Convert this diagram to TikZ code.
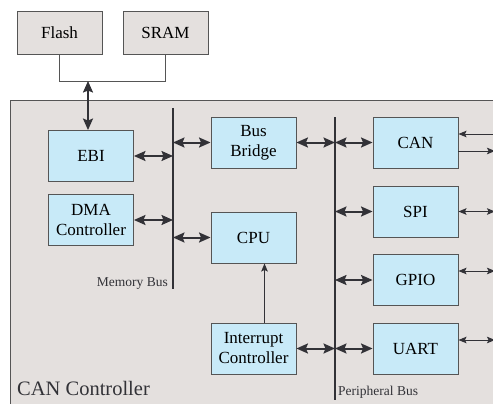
\documentclass[tikz,border=0pt]{standalone}
\usepackage{fontspec}
\setmainfont{Liberation Serif}
\usepackage{tikz}
\usetikzlibrary{arrows.meta,calc,positioning}
\definecolor{chipgray}{RGB}{228,224,222}
\definecolor{blockblue}{RGB}{200,234,248}
\definecolor{edgegray}{RGB}{85,85,85}
\definecolor{linkdark}{RGB}{50,50,55}

\tikzset{
  block/.style={draw=edgegray,fill=blockblue,line width=0.9pt,minimum width=85pt,
    minimum height=51pt,align=center,inner sep=0pt,
    font=\rmfamily\fontsize{17}{20}\selectfont},
  memblock/.style={block,fill=chipgray,minimum height=43pt},
  bushead/.tip={Stealth[length=11.5pt,width=10pt,inset=2pt]},
  iohead/.tip={Stealth[length=8pt,width=6.5pt,inset=1.5pt]},
  buslink/.style={linkdark,line width=2pt,bushead-bushead},
  iolink/.style={linkdark,line width=1pt},
  busline/.style={linkdark,line width=2.4pt},
  smalllabel/.style={font=\rmfamily\fontsize{13.5}{15}\selectfont,inner sep=0pt,text=linkdark},
}

\begin{document}
\begin{tikzpicture}[x=1pt,y=-1pt]
  \useasboundingbox (0,0) rectangle (493,404);
  \clip (0,0) rectangle (493,404);
  % the controller chip, running off the right and bottom edges
  \draw[edgegray,fill=chipgray,line width=0.9pt] (10,100) rectangle (510,420);
  \node[anchor=west,inner sep=0pt,text=linkdark,font=\rmfamily\fontsize{20.5}{22}\selectfont]
    (chip) at (17,388) {CAN Controller};

  % external memories
  \node[memblock] (flash) at (59.5,32.5) {Flash};
  \node[memblock] (sram)  at (165.5,33)  {SRAM};

  % blocks inside the chip
  \node[block] (ebi)  at (91,156)    {EBI};
  \node[block] (dma)  at (91,220)    {DMA\\Controller};
  \node[block] (brdg) at (253.5,142.5) {Bus\\Bridge};
  \node[block] (cpu)  at (253.5,237.5) {CPU};
  \node[block] (intc) at (253.5,348.5) {Interrupt\\Controller};
  \node[block] (can)  at (415.5,142.5) {CAN};
  \node[block] (spi)  at (415.5,211.5) {SPI};
  \node[block] (gpio) at (415.5,280)   {GPIO};
  \node[block] (uart) at (415.5,348.5) {UART};

  % the two buses
  \coordinate (memtop) at (173,108);
  \coordinate (membot) at (173,289);
  \coordinate (pertop) at (335,117);
  \coordinate (perbot) at (335,400);
  \draw[busline] (memtop) -- (membot);
  \draw[busline] (pertop) -- (perbot);
  \node[smalllabel,anchor=south east] (memlbl) at (168,290) {Memory Bus};
  \node[smalllabel,anchor=south west] (perlbl) at (338,399) {Peripheral Bus};

  % memories share one link down to the EBI
  \draw[edgegray,line width=0.9pt] (flash.south) -- ++(0,27) coordinate (join0)
    -| (sram.south);
  \coordinate (ext) at (88,81);
  \draw[buslink] (ext) -- (ext |- ebi.north);

  % memory bus side
  \draw[buslink] (ebi.east)  -- (ebi.east -| memtop);
  \draw[buslink] (dma.east)  -- (dma.east -| memtop);
  \draw[buslink] (memtop |- brdg.west) -- (brdg.west);
  \draw[buslink] (memtop |- cpu.west)  -- (cpu.west);

  % peripheral bus side
  \draw[buslink] (brdg.east) -- (brdg.east -| pertop);
  \draw[buslink] (intc.east) -- (intc.east -| pertop);
  \foreach \p in {can,spi,gpio,uart}
    \draw[buslink] (pertop |- \p.west) -- (\p.west);

  % interrupt request up to the CPU
  \draw[iolink,-iohead] ([xshift=11pt]intc.north) -- ([xshift=11pt]cpu.south);

  % pins leaving the chip
  \coordinate (edge) at (495,0);
  \draw[iolink,iohead-] ([yshift=8.5pt]can.east) -- ([yshift=8.5pt]can.east -| edge);
  \draw[iolink,-iohead] ([yshift=-8.5pt]can.east) -- ([yshift=-8.5pt]can.east -| edge);
  \draw[iolink,iohead-iohead] (spi.east) -- (spi.east -| edge);
  \draw[iolink,iohead-iohead] ([yshift=9pt]gpio.east) -- ([yshift=9pt]gpio.east -| edge);
  \draw[iolink,iohead-iohead] ([yshift=8.5pt]uart.east) -- ([yshift=8.5pt]uart.east -| edge);
\end{tikzpicture}
\end{document}
